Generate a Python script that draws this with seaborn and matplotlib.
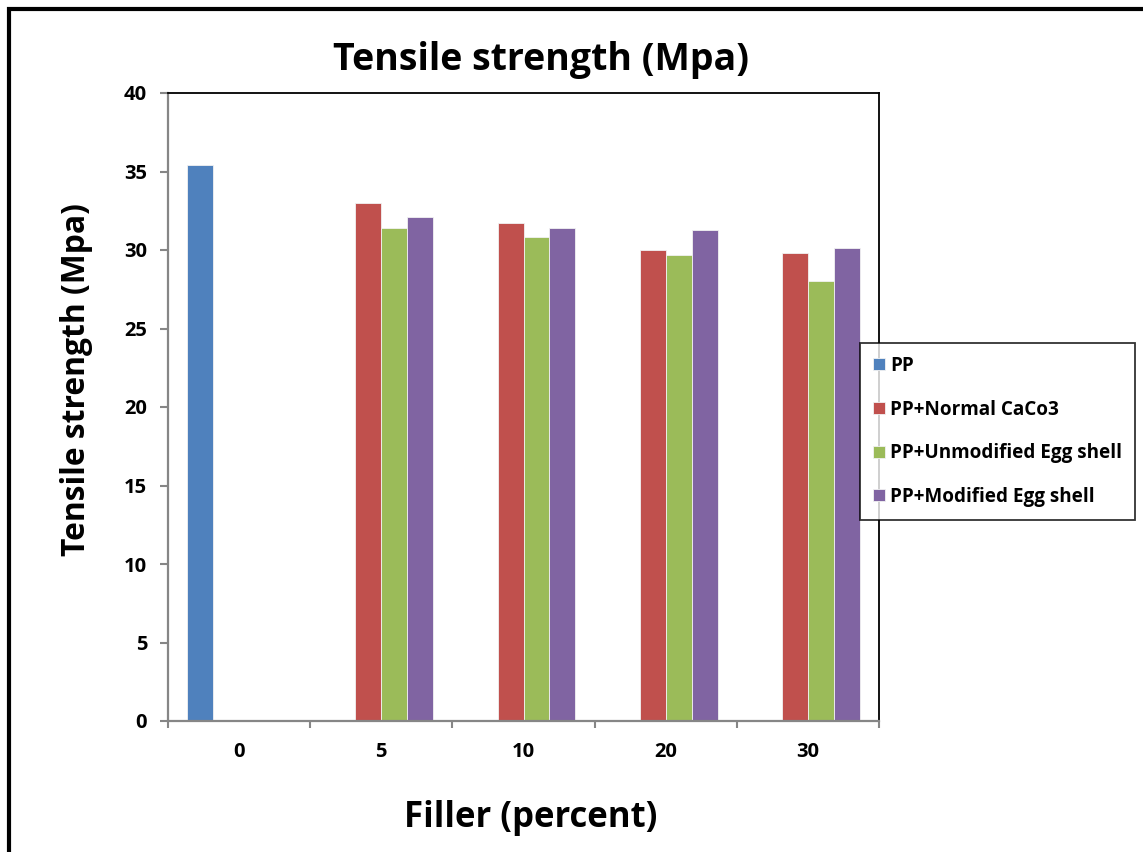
import matplotlib
matplotlib.use("Agg")
import matplotlib.pyplot as plt
import seaborn as sns
import pandas as pd
import numpy as np
from matplotlib.patches import Rectangle
from matplotlib.ticker import FixedLocator

# Filler loading (%) and tensile strength (MPa) per formulation
filler = ["0", "5", "10", "20", "30"]
series = ["PP", "PP+Normal CaCo3", "PP+Unmodified Egg shell", "PP+Modified Egg shell"]
pp = [35.4, None, None, None, None]
normal_caco3 = [None, 33.0, 31.7, 30.0, 29.8]
unmodified_egg = [None, 31.4, 30.8, 29.7, 28.0]
modified_egg = [None, 32.1, 31.4, 31.3, 30.1]
colors = ["#4F81BD", "#C0504D", "#9BBB59", "#8064A2"]
y_ticks = [0, 5, 10, 15, 20, 25, 30, 35, 40]

rows = []
for name, vals in zip(series, [pp, normal_caco3, unmodified_egg, modified_egg]):
    for f, v in zip(filler, vals):
        if v is not None:
            rows.append({"Filler": f, "Series": name, "Strength": v})
df = pd.DataFrame(rows)

sns.set_theme(style="white")
plt.rcParams["font.family"] = ["Open Sans", "DejaVu Sans"]
plt.rcParams["font.weight"] = "bold"
plt.rcParams["text.color"] = "black"
plt.rcParams["axes.labelcolor"] = "black"
plt.rcParams["xtick.color"] = "black"
plt.rcParams["ytick.color"] = "black"

W, H = 1143, 852
fig = plt.figure(figsize=(W / 100, H / 100), dpi=100)
ax = fig.add_axes([168 / W, 1 - 721 / H, (879 - 168) / W, (721 - 93) / H])

sns.barplot(data=df, x="Filler", y="Strength", hue="Series",
            order=filler, hue_order=series, palette=colors,
            width=0.73, dodge=True, gap=0, saturation=1,
            errorbar=None, ax=ax, edgecolor="#f2f2f2", linewidth=0.6)

ax.set_xlim(-0.5, len(filler) - 0.5)
ax.set_ylim(0, 40)
ax.set_yticks(y_ticks)
ax.set_xlabel("")
ax.set_ylabel("")

gray = "#868686"
ax.xaxis.set_minor_locator(FixedLocator(np.arange(-0.5, len(filler), 1.0)))
ax.tick_params(axis="x", which="major", length=0, pad=15, labelsize=14.5, labelcolor="black")
ax.tick_params(axis="x", which="minor", length=5, width=1.5, color=gray, direction="out", bottom=True)
ax.tick_params(axis="y", which="major", length=6, width=1.5, color=gray, direction="out", left=True,
               pad=9, labelsize=14.5, labelcolor="black")
for lbl in ax.get_xticklabels() + ax.get_yticklabels():
    lbl.set_fontweight("bold")

for side in ("left", "bottom"):
    ax.spines[side].set_color(gray)
    ax.spines[side].set_linewidth(1.6)
for side in ("top", "right"):
    ax.spines[side].set_color("black")
    ax.spines[side].set_linewidth(1.3)

handles, labels = ax.get_legend_handles_labels()
ax.get_legend().remove()
leg = fig.legend(handles, labels, loc="center left",
                 bbox_to_anchor=(860 / W, 1 - 431.5 / H),
                 fontsize=13.6, frameon=True, fancybox=False,
                 handlelength=0.6, handleheight=0.6, handletextpad=0.3,
                 labelspacing=1.25, borderpad=0.7, borderaxespad=0)
leg.get_frame().set_edgecolor("black")
leg.get_frame().set_linewidth(1.3)
for t in leg.get_texts():
    t.set_fontweight("bold")
    t.set_color("black")

fig.text(541 / W, 1 - 70 / H, "Tensile strength (Mpa)", ha="center", va="baseline",
         fontsize=27, fontweight="bold")
fig.text(77 / W, 1 - 380 / H, "Tensile strength (Mpa)", ha="center", va="center",
         rotation=90, fontsize=22.9, fontweight="bold")
fig.text(531 / W, 1 - 827 / H, "Filler (percent)", ha="center", va="baseline",
         fontsize=25, fontweight="bold")

# outer frame around the chart
fig.patches.append(Rectangle((9 / W, -0.1), 1.2, 1.1 - 9 / H, transform=fig.transFigure,
                             fill=False, edgecolor="black", linewidth=3, zorder=10))

fig.savefig("out.png", dpi=100)
